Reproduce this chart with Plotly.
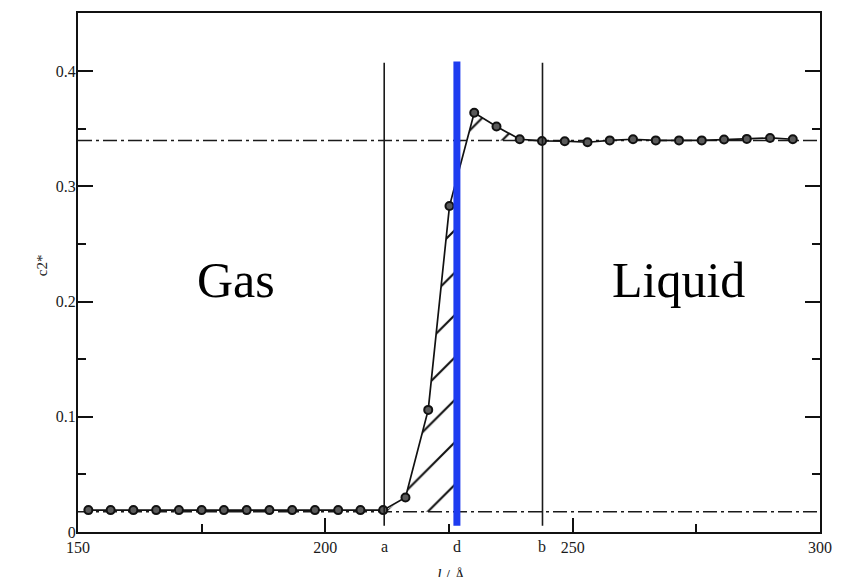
import numpy as np
import plotly.graph_objects as go

# Concentration profile c2* across the interface, l / Å
position = [152.1, 156.6, 161.2, 165.8, 170.4, 175.0, 179.5, 184.1, 188.7, 193.3,
            197.9, 202.6, 207.1, 211.7, 216.2, 220.8, 225.1, 230.1, 234.6, 239.3,
            243.8, 248.4, 253.0, 257.5, 262.2, 266.8, 271.5, 276.1, 280.6, 285.2,
            289.9, 294.5]
c2 = [0.019, 0.019, 0.019, 0.019, 0.019, 0.019, 0.019, 0.019, 0.019, 0.019,
      0.019, 0.019, 0.019, 0.019, 0.030, 0.106, 0.283, 0.364, 0.352, 0.341,
      0.3395, 0.3393, 0.3384, 0.340, 0.341, 0.340, 0.340, 0.340, 0.3407, 0.3413,
      0.3421, 0.341]

# Bulk levels (dash-dot lines)
gas_level = 0.0176
liquid_level = 0.340

# Marked positions on the l axis
A_POS = 211.9
D_POS = 226.6
B_POS = 243.9
marked_names = ["a", "d", "b"]
marked_pos = [A_POS, D_POS, B_POS]

x_ticks = [150, 200, 250, 300]
x_ticktext = ["150", "200", "250", "300"]
y_ticks = [0, 0.1, 0.2, 0.3, 0.4]
y_ticktext = ["0", "0.1", "0.2", "0.3", "0.4"]

X_RANGE = [150, 300]
Y_RANGE = [0, 0.4506]
LINE_TOP = 0.4075
LINE_BOTTOM = 0.0055

xp = np.array(position)
yp = np.array(c2)

# Hatched area under the rising profile, between a and the dividing surface d
inner = (xp > A_POS) & (xp < D_POS)
low_x = [A_POS] + list(xp[inner]) + [D_POS, D_POS, A_POS]
low_y = ([gas_level] + list(yp[inner]) +
         [float(np.interp(D_POS, xp, yp)), gas_level, gas_level])

# Hatched area between the profile and the liquid level, between d and b
inner_u = (xp > D_POS) & (xp < B_POS)
up_x = [D_POS] + list(xp[inner_u]) + [B_POS, B_POS, D_POS]
up_y = ([float(np.interp(D_POS, xp, yp))] + list(yp[inner_u]) +
        [float(np.interp(B_POS, xp, yp)), liquid_level, liquid_level])

hatch = dict(shape="/", fgcolor="#111111", fgopacity=1,
             bgcolor="rgba(255,255,255,0)",
             size=30, solidity=0.07, fillmode="overlay")

fig = go.Figure()
fig.add_trace(go.Scatter(x=low_x, y=low_y, mode="none", fill="toself",
                         fillcolor="rgba(255,255,255,0)", fillpattern=hatch,
                         hoverinfo="skip", showlegend=False))
fig.add_trace(go.Scatter(x=up_x, y=up_y, mode="none", fill="toself",
                         fillcolor="rgba(255,255,255,0)", fillpattern=hatch,
                         hoverinfo="skip", showlegend=False))

dashdot = "14px,4px,3px,4px"
for level in (liquid_level, gas_level):
    fig.add_shape(type="line", xref="x", yref="y", x0=X_RANGE[0], x1=X_RANGE[1],
                  y0=level, y1=level, line=dict(color="#1a1a1a", width=1.5, dash=dashdot),
                  layer="below")

for xv in (A_POS, B_POS):
    fig.add_shape(type="line", xref="x", yref="y", x0=xv, x1=xv,
                  y0=LINE_BOTTOM, y1=LINE_TOP, line=dict(color="#1a1a1a", width=1.6))

fig.add_trace(go.Scatter(
    x=position, y=c2, mode="lines+markers",
    line=dict(color="#111111", width=1.7),
    marker=dict(symbol="circle", size=8, color="#5a5a5a",
                line=dict(color="#111111", width=2)),
    hoverinfo="skip", showlegend=False))

# Dividing surface
fig.add_shape(type="line", xref="x", yref="y", x0=D_POS, x1=D_POS,
              y0=LINE_BOTTOM, y1=0.4085, line=dict(color="#1e3cf0", width=7),
              layer="above")

tick_font = dict(family="Liberation Serif", size=16, color="#1a1a1a")

for name, xv in zip(marked_names, marked_pos):
    fig.add_annotation(x=xv, y=-0.0085, xref="x", yref="paper", text=name,
                       showarrow=False, yanchor="top", font=tick_font)

fig.add_annotation(x=0.5033, y=-0.064, xref="paper", yref="paper",
                   text="<i>l</i> / Å", showarrow=False, yanchor="top",
                   font=dict(family="Liberation Serif", size=16, color="#1a1a1a"))
fig.add_annotation(x=-0.062, y=0.514, xref="paper", yref="paper", text="c2*",
                   textangle=-90, showarrow=False,
                   font=dict(family="Liberation Serif", size=15, color="#1a1a1a"))

big_font = dict(family="Liberation Serif", size=50, color="#000000")
fig.add_annotation(x=181.9, y=0.219, xref="x", yref="y", text="Gas",
                   showarrow=False, font=big_font)
fig.add_annotation(x=271.3, y=0.219, xref="x", yref="y", text="Liquid",
                   showarrow=False, font=big_font)

fig.update_layout(
    width=843, height=577,
    margin=dict(l=78, r=23, t=13, b=45),
    paper_bgcolor="white", plot_bgcolor="white",
    xaxis=dict(range=X_RANGE, tickvals=x_ticks, ticktext=x_ticktext,
               ticks="inside", ticklen=14, tickwidth=1.5, tickcolor="#111111",
               minor=dict(dtick=25, tick0=150, ticks="inside", ticklen=8,
                          tickwidth=1.5, tickcolor="#111111", showgrid=False),
               showline=True, linecolor="#111111", linewidth=2, mirror=True,
               showgrid=False, zeroline=False, tickfont=tick_font),
    yaxis=dict(range=Y_RANGE, tickvals=y_ticks, ticktext=y_ticktext,
               ticks="inside", ticklen=15, tickwidth=1.5, tickcolor="#111111",
               minor=dict(dtick=0.05, tick0=0, ticks="inside", ticklen=8,
                          tickwidth=1.5, tickcolor="#111111", showgrid=False),
               showline=True, linecolor="#111111", linewidth=2, mirror="ticks",
               showgrid=False, zeroline=False, tickfont=tick_font,
               ticklabelstandoff=-3),
)

fig.write_html("out.html")
